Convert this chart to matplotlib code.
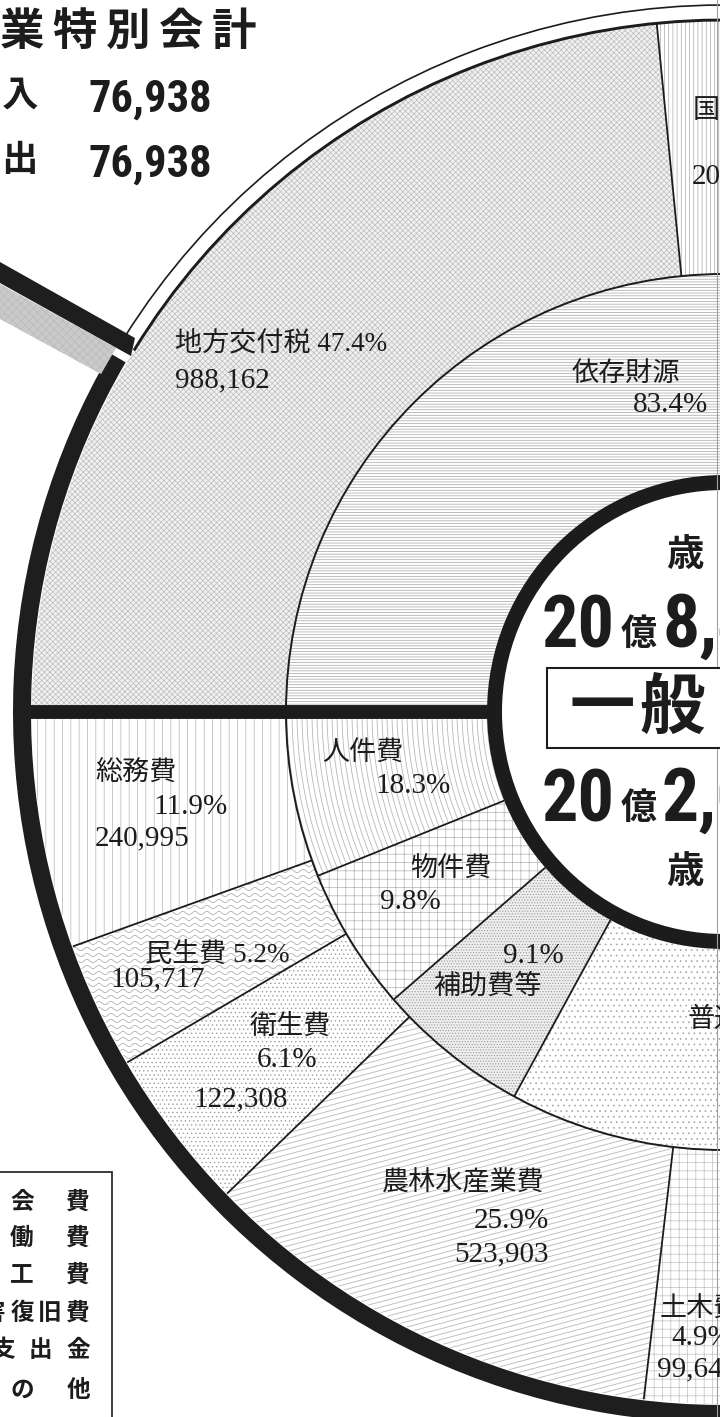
import numpy as np
import matplotlib
matplotlib.use('Agg')
import matplotlib.pyplot as plt
from matplotlib.patches import Wedge, Arc, Polygon, Rectangle
from matplotlib.collections import LineCollection
from matplotlib import font_manager as fm

# ---------------- data ----------------
# revenue (upper half, clockwise from the left horizontal)
rev_outer_items = ['地方交付税', '国庫支出金']
rev_outer_pct = [47.4, 9.8]
rev_outer_amt = [988162, 204300]
rev_outer_arc = [46.9, 9.8]          # share of the half circle as drawn

rev_inner_items = ['依存財源']
rev_inner_pct = [83.4]
rev_inner_arc = [83.4]

# expenditure (lower half, anticlockwise from the left horizontal)
exp_outer_items = ['総務費', '民生費', '衛生費', '農林水産業費', '土木費']
exp_outer_pct = [11.9, 5.2, 6.1, 25.9, 4.9]
exp_outer_amt = [240995, 105717, 122308, 523903, 99640]
exp_outer_arc = [11.0, 5.9, 7.6, 21.8, 4.9]

exp_inner_items = ['人件費', '物件費', '補助費等', '普通建設事業費']
exp_inner_pct = [18.3, 9.8, 9.1, 28.0]
exp_inner_arc = [12.2, 10.6, 11.3, 28.0]

general_title = '一般会計'
general_rows = ['歳　入', '歳　出']
general_totals_man = [208473, 202020]   # 万円

special_title = '業特別会計'
special_rows = ['歳　入', '歳　出']
special_vals = [76938, 76938]

legend_rows = ['議会費', '労働費', '商工費', '災害復旧費', '諸支出金', 'その他']

# ---------------- styles ----------------
_names = {f.name for f in fm.fontManager.ttflist}
def pick(*cands):
    for c in cands:
        if c in _names:
            return c
    return 'DejaVu Sans'

JP = 'Noto Sans CJK JP'
NARROW = pick('Roboto Condensed', 'Liberation Sans Narrow', 'Roboto', 'Noto Sans CJK JP')
SERIF = pick('Liberation Serif', 'DejaVu Serif')
INK = '#1c1c1c'

plt.rcParams['hatch.linewidth'] = 0.5

# (hatch, hatch colour, face colour, extra texture)
rev_outer_style = [('xxxxxx', '#bdbdbd', '#f1f1f1', None),
                   ('||||', '#a8a8a8', 'white', None)]
rev_inner_style = [('------', '#a4a4a4', 'white', None)]
exp_outer_style = [('||', '#b4b4b4', 'white', None),
                   ('', '#b0b0b0', 'white', ('wave', 6.0, 1.6, 12.0)),
                   ('....', '#a0a0a0', 'white', None),
                   ('', '#b8b8b8', 'white', ('par', 15.0, 5.2)),
                   ('++', '#c0c0c0', 'white', None)]
exp_inner_style = [('', '#b8b8b8', 'white', ('conc', 5.0)),
                   ('++', '#b2b2b2', 'white', None),
                   ('......', '#9a9a9a', '#eeeeee', None),
                   ('...', '#a8a8a8', 'white', None)]

W, H = 720, 1417
CX, CY = 724, H - 712
R_IN0 = 237      # outer edge of the inner black ring
R_MID = 438
R_OUT = 692

fig = plt.figure(figsize=(7.2, 14.17), dpi=100, facecolor='white')
ax = fig.add_axes([0, 0, 1, 1])
ax.set_xlim(0, W)
ax.set_ylim(0, H)
ax.axis('off')


def texture(patch, tex, color):
    if tex is None:
        return
    segs = []
    if tex[0] == 'par':
        a = np.deg2rad(tex[1])
        d = np.array([np.cos(a), np.sin(a)])
        n = np.array([-np.sin(a), np.cos(a)])
        c = np.array([CX - 400, CY - 400])
        for o in np.arange(-900, 900, tex[2]):
            p = c + n * o
            segs.append([p - d * 900, p + d * 900])
    elif tex[0] == 'wave':
        sp, amp, lam = tex[1:]
        xs = np.arange(0, W + 1, 1.0)
        for y0 in np.arange(0, H, sp):
            segs.append(np.column_stack([xs, y0 + amp * np.sin(2 * np.pi * xs / lam)]))
    elif tex[0] == 'conc':
        th = np.deg2rad(np.linspace(150, 300, 400))
        for r in np.arange(R_IN0, R_MID, tex[1]):
            segs.append(np.column_stack([CX + r * np.cos(th), CY + r * np.sin(th)]))
    lc = LineCollection(segs, colors=color, linewidths=0.6, zorder=2)
    ax.add_collection(lc)
    lc.set_clip_path(patch)


def ring(arcs, styles, r_in, r_out, direction):
    start = 180.0
    bounds = []
    for arc, (hatch, hc, fc, tex) in zip(arcs, styles):
        span = arc / 100.0 * 180.0
        end = start + direction * span
        t1, t2 = (start, end) if direction > 0 else (end, start)
        w = Wedge((CX, CY), r_out, t1, t2, width=r_out - r_in,
                  facecolor=fc, edgecolor=hc, hatch=hatch or None, linewidth=0,
                  zorder=1)
        ax.add_patch(w)
        texture(w, tex, hc)
        bounds.append(end)
        start = end
    return bounds


def radial(theta, r0, r1, lw=1.3):
    t = np.deg2rad(theta)
    ax.plot([CX + r0 * np.cos(t), CX + r1 * np.cos(t)],
            [CY + r0 * np.sin(t), CY + r1 * np.sin(t)],
            color=INK, lw=lw, solid_capstyle='butt', zorder=3)


b_ro = ring(rev_outer_arc, rev_outer_style, R_MID, R_OUT, -1)
b_ri = ring(rev_inner_arc, rev_inner_style, R_IN0, R_MID, -1)
b_eo = ring(exp_outer_arc, exp_outer_style, R_MID, R_OUT, +1)
b_ei = ring(exp_inner_arc, exp_inner_style, R_IN0, R_MID, +1)

for th in b_ro + b_eo:
    radial(th, R_MID, R_OUT)
for th in b_ri + b_ei:
    radial(th, R_IN0, R_MID)

# middle circle
ax.add_patch(Arc((CX, CY), 2 * R_MID, 2 * R_MID, theta1=0, theta2=360,
                 color=INK, lw=1.4, zorder=3))
# inner thick circle
ax.add_patch(Wedge((CX, CY), R_IN0, 0, 360, width=15, facecolor=INK,
                   edgecolor='none', zorder=4))
# horizontal divider
radial(180, 228, 705, lw=10)

# outer ring: double thin line on the revenue side, thick black elsewhere
ax.add_patch(Arc((CX, CY), 2 * 692, 2 * 692, theta1=0, theta2=148.5,
                 color=INK, lw=2.1, zorder=4))
ax.add_patch(Arc((CX, CY), 2 * 707, 2 * 707, theta1=0, theta2=148.0,
                 color=INK, lw=1.2, zorder=4))
ax.add_patch(Wedge((CX, CY), 711, 149.7, 372, width=18, facecolor='#1e1e1e',
                   edgecolor='none', zorder=4))

# connector band toward the special-account chart
def P(pts):
    return [(x, H - y) for x, y in pts]
ax.add_patch(Polygon(P([(0, 284), (116, 348), (101, 374), (0, 319)]),
                     closed=True, facecolor='#cacaca', edgecolor='#bababa',
                     hatch='xxxx', lw=0, zorder=4))
ax.add_patch(Polygon(P([(0, 262), (135, 338), (131, 356), (0, 283)]),
                     closed=True, facecolor='#1e1e1e', edgecolor='none', zorder=5))

# page gutter line
ax.plot([717, 717], [0, H], color='#a0a0a0', lw=0.8, zorder=6)


# ---------------- text ----------------
def txt(x, py, s, size, family, weight='normal', ha='left', va='center', z=7):
    return ax.text(x, H - py, s, fontsize=size, family=family, fontweight=weight,
                   ha=ha, va=va, color=INK, zorder=z)

LAB = [SERIF, JP]
FS = 19.5
FN = 21
pct = lambda p: f'{p:.1f}%'
amt = lambda a: f'{a:,}'

# revenue labels
txt(175, 345, f'{rev_outer_items[0]} {pct(rev_outer_pct[0])}', FS, LAB)
txt(175, 380, amt(rev_outer_amt[0]), FN, LAB)
txt(693, 110, rev_outer_items[1], FS, LAB)
txt(692, 176, amt(rev_outer_amt[1]), FN, LAB)
txt(572, 374, rev_inner_items[0], FS, LAB)
txt(708, 405, pct(rev_inner_pct[0]), FN, LAB, ha='right')

# expenditure outer labels
txt(95, 773, exp_outer_items[0], FS, LAB)
txt(153, 807, pct(exp_outer_pct[0]), FN, LAB)
txt(95, 838, amt(exp_outer_amt[0]), FN, LAB)
txt(145, 955, f'{exp_outer_items[1]} {pct(exp_outer_pct[1])}', FS, LAB)
txt(110, 979, amt(exp_outer_amt[1]), FN, LAB)
txt(250, 1027, exp_outer_items[2], FS, LAB)
txt(257, 1060, pct(exp_outer_pct[2]), FN, LAB)
txt(193, 1099, amt(exp_outer_amt[2]), FN, LAB)
txt(382, 1184, exp_outer_items[3], FS, LAB)
txt(549, 1221, pct(exp_outer_pct[3]), FN, LAB, ha='right')
txt(549, 1254, amt(exp_outer_amt[3]), FN, LAB, ha='right')
txt(660, 1310, exp_outer_items[4], FS, LAB)
txt(671, 1338, pct(exp_outer_pct[4]), FN, LAB)
txt(657, 1369, amt(exp_outer_amt[4]), FN, LAB)

# expenditure inner labels
txt(322, 753, exp_inner_items[0], FS, LAB)
txt(375, 786, pct(exp_inner_pct[0]), FN, LAB)
txt(410, 870, exp_inner_items[1], FS, LAB)
txt(380, 902, pct(exp_inner_pct[1]), FN, LAB)
txt(503, 956, pct(exp_inner_pct[2]), FN, LAB)
txt(433, 987, exp_inner_items[2], FS, LAB)
txt(688, 1020, exp_inner_items[3], FS, LAB)

# centre block
BIG = [NARROW, JP]
for i, (row, tot) in enumerate(zip(general_rows, general_totals_man)):
    base = 648 if i == 0 else 822
    oku, man = divmod(tot, 10000)
    txt(614, base, f'{oku}', 52, BIG, weight='bold', ha='right', va='baseline')
    txt(621, base - 3, '億', 26, JP, weight='bold', va='baseline')
    txt(662, base, f'{man:,}万円', 53, BIG, weight='bold', va='baseline')
    txt(667, 555 if i == 0 else 872, row, 27, JP, weight='bold')
ax.add_patch(Rectangle((547, H - 748), 300, 80, facecolor='white',
                       edgecolor=INK, lw=1.5, zorder=6))
title_x = [602, 672, 760, 830]
for ch, x in zip(general_title, title_x):
    txt(x, 708, ch, 47, JP, weight='bold', ha='center')

# special account block (top left)
for k, ch in enumerate(special_title):
    txt(22 + 53 * k, 32, ch, 32, JP, weight='bold', ha='center')
for i, (row, v) in enumerate(zip(special_rows, special_vals)):
    txt(38, 95 + 65 * i, row, 26, JP, weight='bold', ha='right')
    txt(88, 112 + 65 * i, f'{v:,}', 32, [NARROW, JP], weight='bold', va='baseline')

# boxed legend (bottom left)
ax.add_patch(Rectangle((-5, H - 1425), 117, 1425 - 1172, facecolor='white',
                       edgecolor=INK, lw=1.2, zorder=6))
row_y = [1202, 1238, 1275, 1313, 1350, 1390]
for s, y in zip(legend_rows, row_y):
    n = len(s)
    xs = np.linspace(-34, 78, n)
    for ch, x in zip(s, xs):
        txt(x, y, ch, 17, JP, weight='bold', ha='center')

fig.savefig('out.png', dpi=100, facecolor='white')
